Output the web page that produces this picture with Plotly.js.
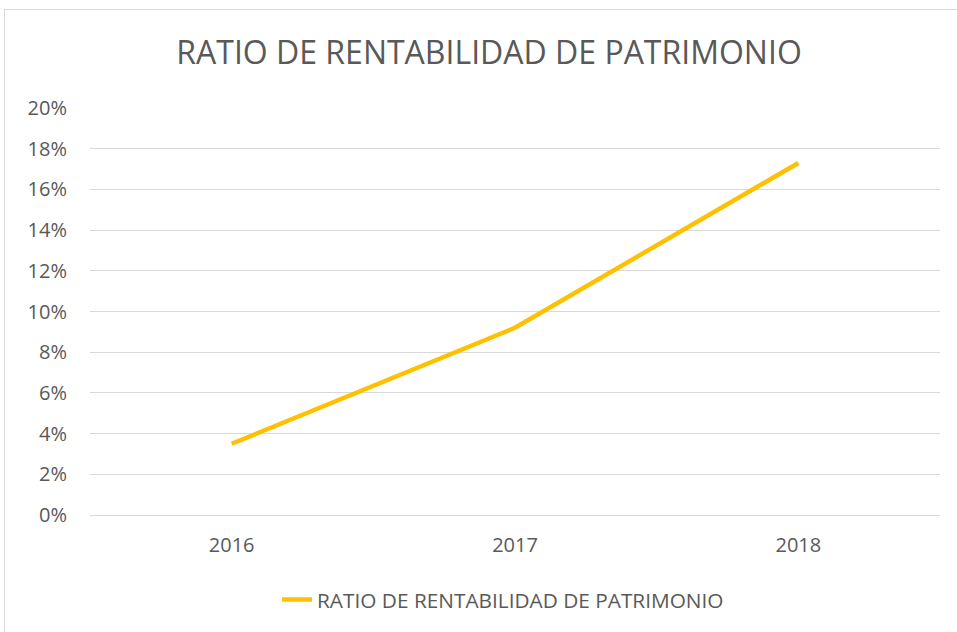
<!DOCTYPE html>
<html>
<head>
<meta charset="utf-8">
<script src="https://cdn.plot.ly/plotly-3.0.1.min.js"></script>
<style>
html,body{margin:0;padding:0;background:#fff;overflow:hidden;}
#frame{position:absolute;left:4px;top:9px;width:980px;height:660px;border:1px solid #d9d9d9;box-sizing:border-box;}
#chart{position:absolute;left:0;top:0;width:957px;height:632px;}
</style>
</head>
<body>
<div id="frame"></div>
<div id="chart"></div>
<script>
var years = ['2016', '2017', '2018'];
var ratio = [0.035, 0.092, 0.173];
var seriesName = 'RATIO DE RENTABILIDAD DE PATRIMONIO';
var chartTitle = 'RATIO DE RENTABILIDAD DE PATRIMONIO';
var yTicks = [0, 0.02, 0.04, 0.06, 0.08, 0.10, 0.12, 0.14, 0.16, 0.18, 0.20];

var font = 'Open Sans, Lato, sans-serif';
var trace = {
  x: years, y: ratio, type: 'scatter', mode: 'lines', name: seriesName,
  line: {color: '#FFC000', width: 4.5}
};
var layout = {
  width: 957, height: 632,
  paper_bgcolor: 'rgba(0,0,0,0)', plot_bgcolor: 'rgba(0,0,0,0)',
  margin: {l: 90, r: 17, t: 108, b: 117},
  title: {text: chartTitle, font: {family: font, size: 32, color: '#595959'},
          x: 0.511, xanchor: 'center', xref: 'container', y: 1 - 53/632, yanchor: 'middle', yref: 'container'},
  xaxis: {type: 'category', range: [-0.5, 2.5], showgrid: false, zeroline: false, showline: false,
          ticks: 'outside', ticklen: 12, tickcolor: 'rgba(0,0,0,0)',
          tickfont: {family: font, size: 20, color: '#595959'}},
  yaxis: {range: [0, 0.2], tickvals: yTicks, tickformat: '.0%', showgrid: true, gridcolor: '#d9d9d9', gridwidth: 1,
          zeroline: true, zerolinecolor: '#d9d9d9', zerolinewidth: 1, showline: false,
          ticks: 'outside', ticklen: 18, tickcolor: 'rgba(0,0,0,0)',
          tickfont: {family: font, size: 20, color: '#595959'}},
  showlegend: true,
  legend: {orientation: 'h', x: 277/957, xanchor: 'left', xref: 'container', y: 1 - 600/632, yanchor: 'middle', yref: 'container',
           font: {family: font, size: 20.8, color: '#595959'}}
};
Plotly.newPlot('chart', [trace], layout, {displayModeBar: false, staticPlot: true});
</script>
</body>
</html>
